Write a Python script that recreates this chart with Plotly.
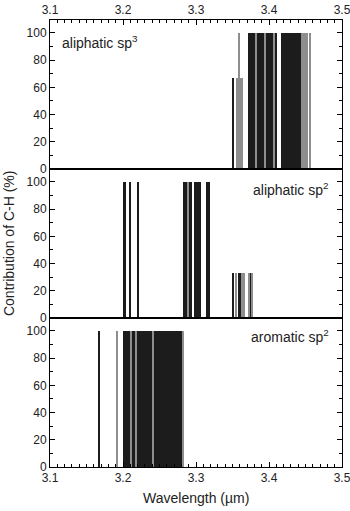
import plotly.graph_objects as go
from plotly.subplots import make_subplots

# ---------------- data ----------------
# Panel 1: aliphatic sp3
sp3_black_wl = [3.3515,
                3.3725, 3.3740, 3.3755, 3.3770, 3.3785, 3.3800, 3.3815,
                3.3845, 3.3860, 3.3875, 3.3890, 3.3905, 3.3920, 3.3935,
                3.3970, 3.3985, 3.4000, 3.4015, 3.4030, 3.4045,
                3.4095,
                3.4185, 3.4200, 3.4215, 3.4230, 3.4245, 3.4260, 3.4275, 3.4290,
                3.4305, 3.4320, 3.4335, 3.4350, 3.4365, 3.4380, 3.4395, 3.4410,
                3.4425, 3.4440]
sp3_black_val = [66.7] + [100.0] * 39
sp3_gray_wl = [3.3565, 3.3580, 3.3610, 3.3625, 3.3640, 3.3597,
               3.3828, 3.3955, 3.4075, 3.4460, 3.4475, 3.4490, 3.4510, 3.4525, 3.4560]
sp3_gray_val = [66.7, 66.7, 66.7, 66.7, 66.7, 100.0,
                100.0, 100.0, 100.0, 100.0, 100.0, 100.0, 100.0, 100.0, 100.0]

# Panel 2: aliphatic sp2
ali2_black_wl = [3.2015, 3.2030, 3.2105, 3.2205,
                 3.2845, 3.2860, 3.2875, 3.2905, 3.2920, 3.2935,
                 3.2995, 3.3010, 3.3025, 3.3040, 3.3055,
                 3.3150, 3.3165, 3.3180,
                 3.3510, 3.3590, 3.3605, 3.3620, 3.3745]
ali2_black_val = [100.0] * 18 + [33.3] * 5
ali2_gray_wl = [3.2890, 3.3550, 3.3640, 3.3655, 3.3725, 3.3765]
ali2_gray_val = [100.0, 33.3, 33.3, 33.3, 33.3, 33.3]

# Panel 3: aromatic sp2
aro_black_wl = [3.1676,
                3.2010, 3.2025, 3.2040, 3.2055, 3.2070, 3.2085, 3.2100,
                3.2125, 3.2140, 3.2155, 3.2170,
                3.2200, 3.2215, 3.2230, 3.2245, 3.2260, 3.2275, 3.2290, 3.2305,
                3.2320, 3.2335, 3.2350, 3.2365, 3.2380, 3.2395,
                3.2425, 3.2440, 3.2455, 3.2470, 3.2485, 3.2500, 3.2515, 3.2530,
                3.2545, 3.2560, 3.2575, 3.2590, 3.2605, 3.2620, 3.2635, 3.2650,
                3.2665, 3.2680, 3.2695, 3.2710, 3.2725, 3.2740, 3.2755, 3.2770,
                3.2785, 3.2800, 3.2812]
aro_black_val = [100.0] * len(aro_black_wl)
aro_gray_wl = [3.1922, 3.2112, 3.2187, 3.2410, 3.2826]
aro_gray_val = [100.0, 100.0, 100.0, 100.0, 100.0]

panel_labels = ["aliphatic sp<sup>3</sup>", "aliphatic sp<sup>2</sup>", "aromatic sp<sup>2</sup>"]
x_ticks = [3.1, 3.2, 3.3, 3.4, 3.5]
y_ticks = [0, 20, 40, 60, 80, 100]

# ---------------- figure ----------------
BLACK = "#1c1c1c"
GRAY = "#8e8e8e"
BAR_W = 0.0020
FONT = "Liberation Sans, Arial, sans-serif"

fig = make_subplots(rows=3, cols=1, shared_xaxes=True, vertical_spacing=0)


def add(row, x, y, color):
    fig.add_trace(go.Bar(x=x, y=y, width=BAR_W,
                         marker=dict(color=color, line=dict(width=0)),
                         showlegend=False, hoverinfo="skip"), row=row, col=1)


add(1, sp3_black_wl, sp3_black_val, BLACK)
add(1, sp3_gray_wl, sp3_gray_val, GRAY)
add(2, ali2_black_wl, ali2_black_val, BLACK)
add(2, ali2_gray_wl, ali2_gray_val, GRAY)
add(3, aro_black_wl, aro_black_val, BLACK)
add(3, aro_gray_wl, aro_gray_val, GRAY)

xcommon = dict(range=[3.1, 3.5], tickvals=x_ticks, ticktext=[f"{v:.1f}" for v in x_ticks],
               showline=True, linecolor="black", linewidth=1, mirror=True,
               showgrid=False, zeroline=False, automargin=False,
               ticklabeloverflow="allow",
               ticks="inside", ticklen=5, tickcolor="black", tickwidth=1,
               minor=dict(dtick=0.01, tick0=3.1, ticks="inside", ticklen=3,
                          tickcolor="black", tickwidth=1, showgrid=False),
               tickfont=dict(family=FONT, size=12, color="#222"))
fig.update_xaxes(**xcommon)
fig.update_xaxes(row=1, col=1, side="top", showticklabels=True)
fig.update_xaxes(row=2, col=1, ticks="", minor=dict(ticks=""), showticklabels=False)
fig.update_xaxes(row=3, col=1, showticklabels=True)

fig.update_yaxes(range=[0, 109.5], tickvals=y_ticks,
                 showline=True, linecolor="black", linewidth=1, mirror="allticks",
                 showgrid=False, zeroline=False, automargin=False,
                 ticklabeloverflow="allow",
                 ticks="inside", ticklen=5, tickcolor="black", tickwidth=1,
                 minor=dict(dtick=10, tick0=0, ticks="inside", ticklen=3,
                            tickcolor="black", tickwidth=1, showgrid=False),
                 tickfont=dict(family=FONT, size=12, color="#222"))

annos = [
    dict(x=3.114, y=93, xref="x", yref="y", text=panel_labels[0], xanchor="left", yanchor="middle"),
    dict(x=3.485, y=95, xref="x2", yref="y2", text=panel_labels[1], xanchor="right", yanchor="middle"),
    dict(x=3.485, y=96, xref="x3", yref="y3", text=panel_labels[2], xanchor="right", yanchor="middle"),
    dict(x=-0.142, y=0.5, xref="paper", yref="paper", text="Contribution of C-H (%)",
         textangle=-90, xanchor="center", yanchor="middle"),
    dict(x=0.5, y=-0.07, xref="paper", yref="paper", text="Wavelength (µm)",
         xanchor="center", yanchor="middle"),
]
for a in annos:
    a.update(showarrow=False, font=dict(family=FONT, size=14, color="#222"))
fig.update_layout(annotations=annos)

fig.update_layout(width=350, height=511,
                  margin=dict(l=50, r=8, t=20, b=44, autoexpand=False),
                  paper_bgcolor="white", plot_bgcolor="white",
                  barmode="overlay", bargap=0,
                  font=dict(family=FONT, size=12, color="#222"))

fig.write_html("out.html", config={"displayModeBar": False},
               post_script="document.body.style.margin='0px';document.body.style.padding='0px';")
